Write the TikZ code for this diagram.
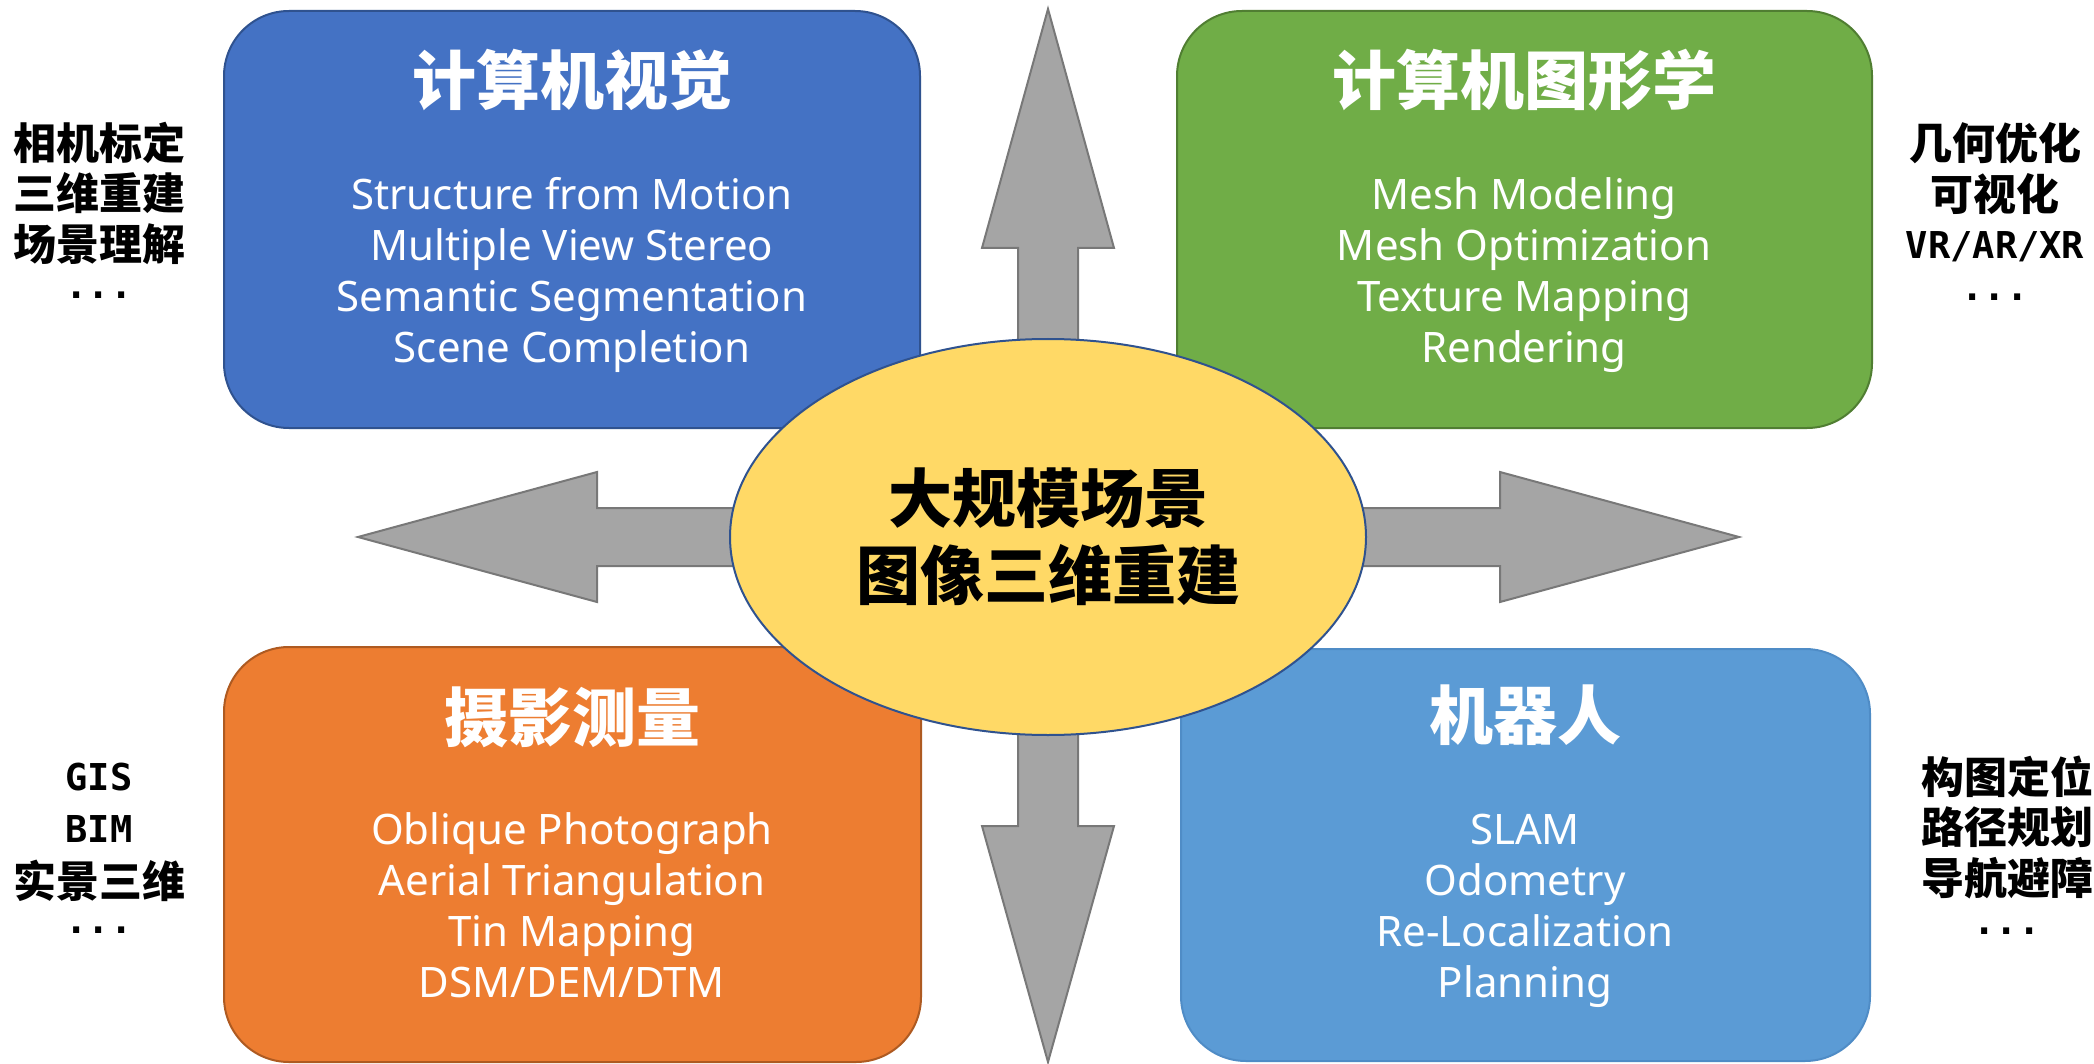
\documentclass[tikz,border=0pt]{standalone}
\usepackage{fontspec}
\setmainfont{Noto Sans}
\newfontfamily\cjk{Noto Sans CJK SC}
\newfontfamily\monof{DejaVu Sans Mono}
\usetikzlibrary{shapes.geometric}
\definecolor{cvblue}{HTML}{4472C4}
\definecolor{cvblueD}{HTML}{2F528F}
\definecolor{cggreen}{HTML}{70AD47}
\definecolor{cggreenD}{HTML}{507E32}
\definecolor{pmorange}{HTML}{ED7D31}
\definecolor{pmorangeD}{HTML}{AE5A21}
\definecolor{rbblue}{HTML}{5B9BD5}
\definecolor{rbblueD}{HTML}{4F8CC6}
\definecolor{coreyellow}{HTML}{FFD966}
\definecolor{arrowgray}{HTML}{A5A5A5}
\definecolor{arrowgrayD}{HTML}{787878}
\tikzset{
  panel/.style={rounded corners=32.5pt, line width=1pt, inner sep=0pt},
  blockarrow/.style={fill=arrowgray, draw=arrowgrayD, line width=1pt, line join=miter},
  paneltitle/.style={text=white, inner sep=0pt, font=\fontsize{32}{38}\cjk\bfseries},
  coretitle/.style={text=black, inner sep=0pt, font=\fontsize{32}{38}\cjk\bfseries},
  item/.style={text=white, inner sep=0pt, anchor=base, font=\fontsize{21}{25}\selectfont},
  sidecjk/.style={text=black, inner sep=0pt, font=\fontsize{21.5}{25}\cjk\bfseries},
  sidemono/.style={text=black, inner sep=0pt, anchor=base, font=\fontsize{18.5}{21}\monof\bfseries},
}
\begin{document}
\begin{tikzpicture}[x=0.5pt,y=-0.5pt]
\useasboundingbox[fill=white] (0,0) rectangle (2094,1064);
% panels
\node[panel, fill=cvblue, draw=cvblueD, minimum width=348pt, minimum height=208.5pt] (cv) at (572,219.5) {};
\node[panel, fill=cggreen, draw=cggreenD, minimum width=347.5pt, minimum height=208.5pt] (cg) at (1524.5,219.5) {};
\node[panel, fill=pmorange, draw=pmorangeD, minimum width=348.5pt, minimum height=207.5pt] (pm) at (572.5,854.5) {};
\node[panel, fill=rbblue, draw=rbblueD, minimum width=344.5pt, minimum height=206pt] (rb) at (1525.5,855) {};
% arrows
\coordinate (c) at (1048,537);
\begin{scope}[shift={(c)}]
\draw[blockarrow] (-30,0) -- (-30,-289) -- (-66,-289) -- (0,-528) -- (66,-289) -- (30,-289) -- (30,0) -- cycle;
\draw[blockarrow] (-30,0) -- (-30,289) -- (-66,289) -- (0,525) -- (66,289) -- (30,289) -- (30,0) -- cycle;
\draw[blockarrow] (0,-29) -- (-451,-29) -- (-451,-65) -- (-690,0) -- (-451,65) -- (-451,29) -- (0,29) -- cycle;
\draw[blockarrow] (0,-29) -- (452,-29) -- (452,-65) -- (691,0) -- (452,65) -- (452,29) -- (0,29) -- cycle;
\end{scope}
% core
\node[ellipse, fill=coreyellow, draw=cvblueD, line width=1pt, minimum width=318pt, minimum height=198pt, inner sep=0pt] (core) at (c) {};
\node[coretitle] (core-1) at (1048,498) {大规模场景};
\node[coretitle] (core-2) at (1048,575) {图像三维重建};
% panel titles
\node[paneltitle] (cv-t) at (572,80) {计算机视觉};
\node[paneltitle] (cg-t) at (1524,80) {计算机图形学};
\node[paneltitle] (pm-t) at (572,717) {摄影测量};
\node[paneltitle] (rb-t) at (1525,715) {机器人};
% panel items
\foreach \t [count=\i] in {Structure from Motion, Multiple View Stereo, Semantic Segmentation, Scene Completion}
  \node[item] (cv-\i) at (572,{210+51*(\i-1)}) {\t};
\foreach \t [count=\i] in {Mesh Modeling, Mesh Optimization, Texture Mapping, Rendering}
  \node[item] (cg-\i) at (1524,{210+51*(\i-1)}) {\t};
\foreach \t [count=\i] in {Oblique Photograph, Aerial Triangulation, Tin Mapping, DSM/DEM/DTM}
  \node[item] (pm-\i) at (572,{844+51*(\i-1)}) {\t};
\foreach \t [count=\i] in {SLAM, Odometry, Re-Localization, Planning}
  \node[item] (rb-\i) at (1525,{844+51*(\i-1)}) {\t};
% side notes: top left
\node[sidecjk] (tl-1) at (99,142.5) {相机标定};
\node[sidecjk] (tl-2) at (99,193.5) {三维重建};
\node[sidecjk] (tl-3) at (99,244.5) {场景理解};
\node[sidemono] (tl-4) at (99,299) {...};
% top right
\node[sidecjk] (tr-1) at (1995,143) {几何优化};
\node[sidecjk] (tr-2) at (1995,194) {可视化};
\node[sidemono] (tr-3) at (1995,259) {VR/AR/XR};
\node[sidemono] (tr-4) at (1995,300) {...};
% bottom left
\node[sidemono] (bl-1) at (99,790) {GIS};
\node[sidemono] (bl-2) at (99,842) {BIM};
\node[sidecjk] (bl-3) at (99,881) {实景三维};
\node[sidemono] (bl-4) at (99,933) {...};
% bottom right
\node[sidecjk] (br-1) at (2007,776.5) {构图定位};
\node[sidecjk] (br-2) at (2007,827) {路径规划};
\node[sidecjk] (br-3) at (2007,878) {导航避障};
\node[sidemono] (br-4) at (2007,934) {...};
\end{tikzpicture}
\end{document}
